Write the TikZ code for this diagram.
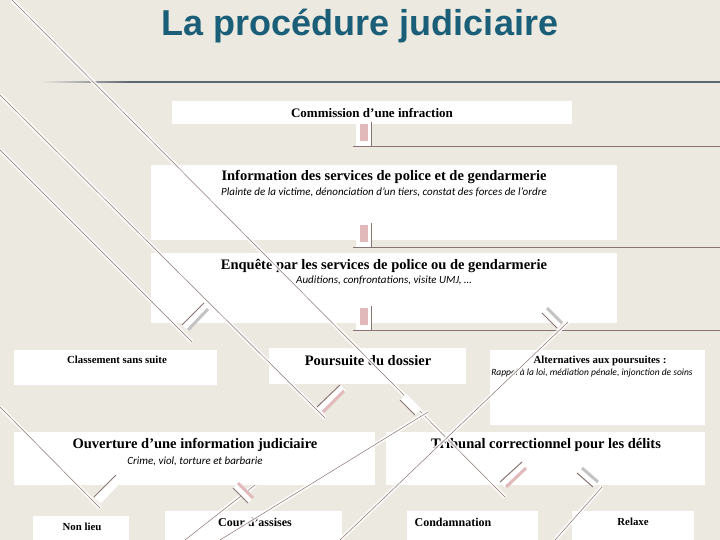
\documentclass[tikz,border=0pt]{standalone}
\usepackage{fontspec}
\setmainfont{Liberation Serif}
\newfontfamily\titlefont{Liberation Sans}
\newfontfamily\subfont{Carlito}
\definecolor{bg}{HTML}{ECE9E1}
\definecolor{teal}{HTML}{1B5E78}
\definecolor{brn}{HTML}{8A7472}
\definecolor{pinkb}{HTML}{E2B9BA}
\definecolor{grayb}{HTML}{C3C3C3}
\definecolor{rule}{HTML}{5E6670}
\begin{document}
\begin{tikzpicture}[x=1pt,y=-1pt,
  box/.style={fill=white,draw=none},
  ttl/.style={font=\bfseries\fontsize{14.5}{15}\selectfont,inner sep=0},
  sml/.style={font=\bfseries\fontsize{10.8}{12}\selectfont,inner sep=0},
  sub/.style={font=\subfont\itshape\fontsize{11}{12}\selectfont,inner sep=0},
  halo/.style={draw=white,line width=4pt,opacity=0.85},
  thin/.style={draw=brn,line width=0.6pt},
  bar/.style={line width=3pt}]
\useasboundingbox (0,0) rectangle (720,540);
\fill[bg] (0,0) rectangle (720,540);
\node[font=\titlefont\bfseries\fontsize{36}{40}\selectfont,text=teal] (title) at (360,26) {La procédure judiciaire};
\shade[left color=bg,right color=rule] (40,81.3) rectangle (130,82.7);
\fill[rule] (130,81.3) rectangle (720,82.7);
% boxes
\fill[box] (172,101) rectangle (572,124); \node[ttl,font=\bfseries\fontsize{13}{14}\selectfont] (n1) at (372,113) {Commission d’une infraction};
\fill[box] (151,165) rectangle (617,240); \node[ttl] (n2) at (384,177) {Information des services de police et de gendarmerie};
\node[sub] (s2) at (384,192) {Plainte de la victime, dénonciation d’un tiers, constat des forces de l’ordre};
\fill[box] (151,253) rectangle (617,323); \node[ttl] (n3) at (384,266) {Enquête par les services de police ou de gendarmerie};
\node[sub] (s3) at (384,280) {Auditions, confrontations, visite UMJ, …};
\fill[box] (14,350) rectangle (217,385); \node[sml] (n4) at (117,360) {Classement sans suite};
\fill[box] (269,348) rectangle (466,384); \node[ttl] (n5) at (368,361) {Poursuite du dossier};
\fill[box] (490,350) rectangle (705,425); \node[sml] (n6) at (600,361) {Alternatives aux poursuites :};
\node[sub,font=\subfont\itshape\fontsize{9.5}{10}\selectfont] (s6) at (592,373) {Rappel à la loi, médiation pénale, injonction de soins};
\fill[box] (14,432) rectangle (375,485); \node[ttl] (n7) at (195,445) {Ouverture d’une information judiciaire};
\node[sub] (s7) at (195,461) {Crime, viol, torture et barbarie};
\fill[box] (386,432) rectangle (705,485); \node[ttl] (n8) at (546,445) {Tribunal correctionnel pour les délits};
\fill[box] (33,516) rectangle (129,540); \node[sml] (n9) at (82,527) {Non lieu};
\fill[box] (165,511) rectangle (342,540); \node[sml,font=\bfseries\fontsize{12}{13}\selectfont] (n10) at (255,522) {Cour d’assises};
\fill[box] (407,511) rectangle (538,540); \node[sml,font=\bfseries\fontsize{12}{13}\selectfont] (n11) at (453,522) {Condamnation};
\fill[box] (572,511) rectangle (694,540); \node[sml] (n12) at (633,522) {Relaxe};
% vertical stubs
\foreach \h in {146,247,330}{
  \fill[white] (356,\h-24) rectangle (372,\h);
  \fill[pinkb] (360,\h-22) rectangle (368,\h-5);
  \draw[thin] (371,\h-24) -- (371,\h);
  \draw[thin] (353,\h) -- (720,\h);
}
% diagonal connectors
\foreach \a/\b in {{(12,0)}/{(505,497)},{(0,95)}/{(325,418)},{(0,150)}/{(192,342)},{(0,407)}/{(100,508)},
  {(220,540)}/{(428,412)},{(340,540)}/{(568,322)},{(555,540)}/{(602,487)},{(185,540)}/{(255,485)}}{
  \draw[halo] \a -- \b; \draw[thin,line width=0.5pt] \a -- \b;}
% flags: brown line + coloured bar
\foreach \p/\q/\r/\s/\c in {182/325/204/303/grayb, 317/407/340/385/pinkb, 500/482/522/462/pinkb, 94/497/116/475/white}{
  \draw[white,line width=9pt] (\p+3,\q+3) -- (\r+3,\s+3);
  \draw[thin,line width=1pt] (\p,\q) -- (\r,\s);
  \draw[\c,bar] (\p+6,\q+5) -- (\r+4,\s+6);}
\foreach \p/\q/\r/\s/\c in {233/488/248/503/pinkb, 400/400/415/415/white, 542/313/557/328/grayb, 577/473/593/487/grayb}{
  \draw[white,line width=9pt] (\p+3,\q-3) -- (\r+3,\s-3);
  \draw[thin,line width=1pt] (\p,\q) -- (\r,\s);
  \draw[\c,bar] (\p+5,\q-5) -- (\r+5,\s-5);}
\end{tikzpicture}
\end{document}
